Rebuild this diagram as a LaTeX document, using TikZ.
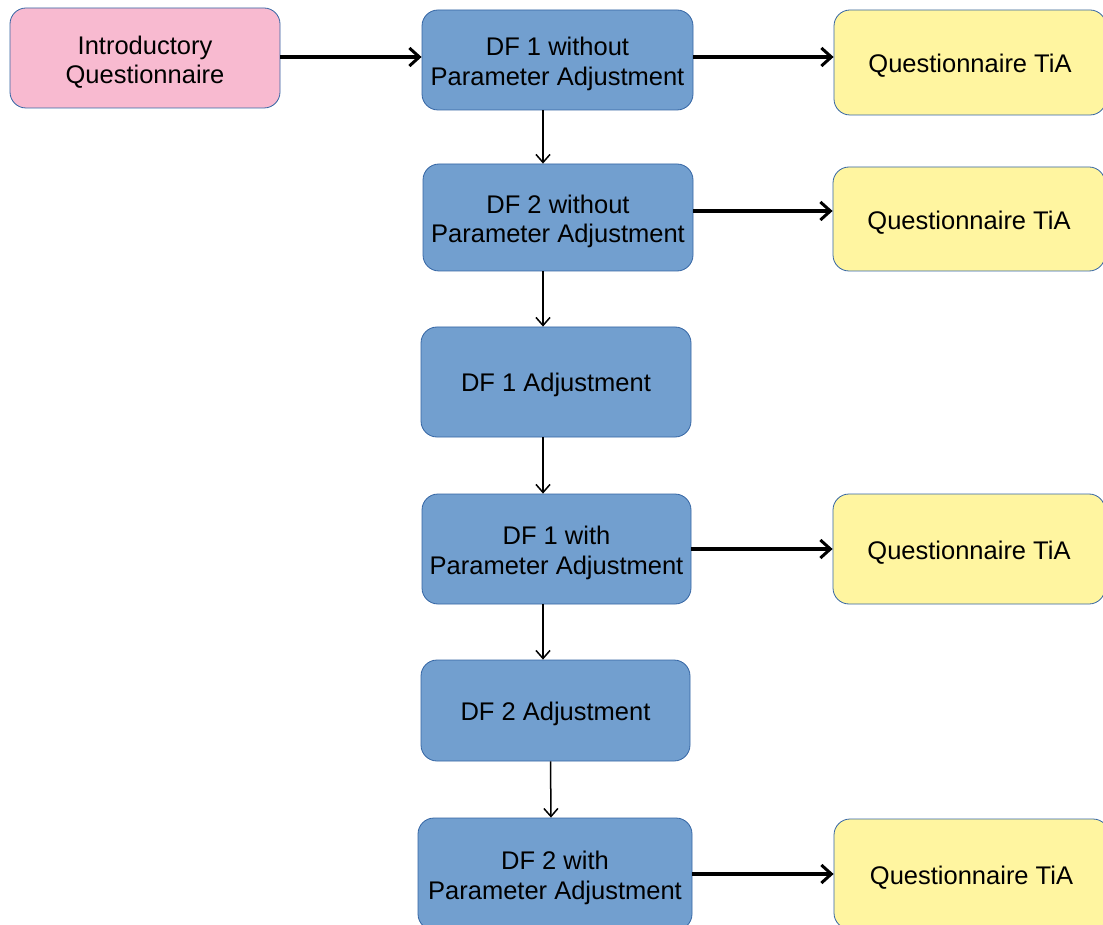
\documentclass[tikz,border=0pt]{standalone}
\usepackage{fontspec}
\setmainfont{Liberation Sans}
\usetikzlibrary{arrows.meta}
\definecolor{boxblue}{HTML}{729FCF}
\definecolor{edgeblue}{HTML}{3465A4}
\definecolor{boxpink}{HTML}{F8BAD0}
\definecolor{boxyellow}{HTML}{FFF5A0}
\begin{document}
\begin{tikzpicture}[x=1pt,y=1pt,
  base/.style={draw=edgeblue, line width=0.8pt, rounded corners=16pt, align=center,
    font=\fontsize{25.5}{29.5}\selectfont, inner sep=0pt, text height=25pt},
  twoline/.style={text height=56pt},
  bluebox/.style={base, fill=boxblue},
  pinkbox/.style={base, fill=boxpink},
  yelbox/.style={base, fill=boxyellow},
  thickarr/.style={line width=3.2pt, -{Straight Barb[length=10pt,width=18pt,line width=3pt]}},
  thinarr/.style={line width=1.5pt, -{Straight Barb[length=8pt,width=14pt,line width=1.5pt]}}
]
\useasboundingbox (0,0) rectangle (1103,-925);
\clip (0,0) rectangle (1103,-925);
\fill[white] (0,0) rectangle (1103,-925);

\node[pinkbox, twoline, minimum width=270pt, minimum height=100pt] (intro) at (145,-58) {Introductory\\Questionnaire};
\node[bluebox, twoline, minimum width=271pt, minimum height=100pt] (df1) at (557.5,-60) {DF 1 without\\Parameter Adjustment};
\node[yelbox, minimum width=272pt, minimum height=105pt] (q1) at (970,-62.5) {Questionnaire TiA};
\node[bluebox, twoline, minimum width=270pt, minimum height=107pt] (df2) at (558,-217.5) {DF 2 without\\Parameter Adjustment};
\node[yelbox, minimum width=272pt, minimum height=104pt] (q2) at (969,-219) {Questionnaire TiA};
\node[bluebox, minimum width=270pt, minimum height=110pt] (adj1) at (556,-382) {DF 1 Adjustment};
\node[bluebox, twoline, minimum width=269pt, minimum height=110pt] (df1w) at (556.5,-549) {DF 1 with\\Parameter Adjustment};
\node[yelbox, minimum width=272pt, minimum height=110pt] (q3) at (969,-549) {Questionnaire TiA};
\node[bluebox, minimum width=269pt, minimum height=101pt] (adj2) at (555.5,-710.5) {DF 2 Adjustment};
\node[bluebox, twoline, minimum width=274pt, minimum height=112pt] (df2w) at (555,-874) {DF 2 with\\Parameter Adjustment};
\node[yelbox, minimum width=275pt, minimum height=110pt] (q4) at (971.5,-874) {Questionnaire TiA};

\draw[thickarr] ([yshift=1pt]intro.east) -- ([yshift=1pt]intro.east -| df1.west);
\draw[thickarr] ([yshift=3pt]df1.east) -- ([yshift=3pt]df1.east -| q1.west);
\draw[thickarr] ([yshift=6.5pt]df2.east) -- ([yshift=6.5pt]df2.east -| q2.west);
\draw[thickarr] (df1w.east) -- (q3.west);
\draw[thickarr] (df2w.east) -- (q4.west);

\draw[thinarr] ([xshift=-14.5pt]df1.south) -- ([xshift=-14.5pt]df1.south |- df2.north);
\draw[thinarr] ([xshift=-15pt]df2.south) -- ([xshift=-15pt]df2.south |- adj1.north);
\draw[thinarr] ([xshift=-13pt]adj1.south) -- ([xshift=-13pt]adj1.south |- df1w.north);
\draw[thinarr] ([xshift=-13.5pt]df1w.south) -- ([xshift=-13.5pt]df1w.south |- adj2.north);
\draw[thinarr] ([xshift=-5pt]adj2.south) -- ([xshift=-4pt]df2w.north);
\end{tikzpicture}
\end{document}
